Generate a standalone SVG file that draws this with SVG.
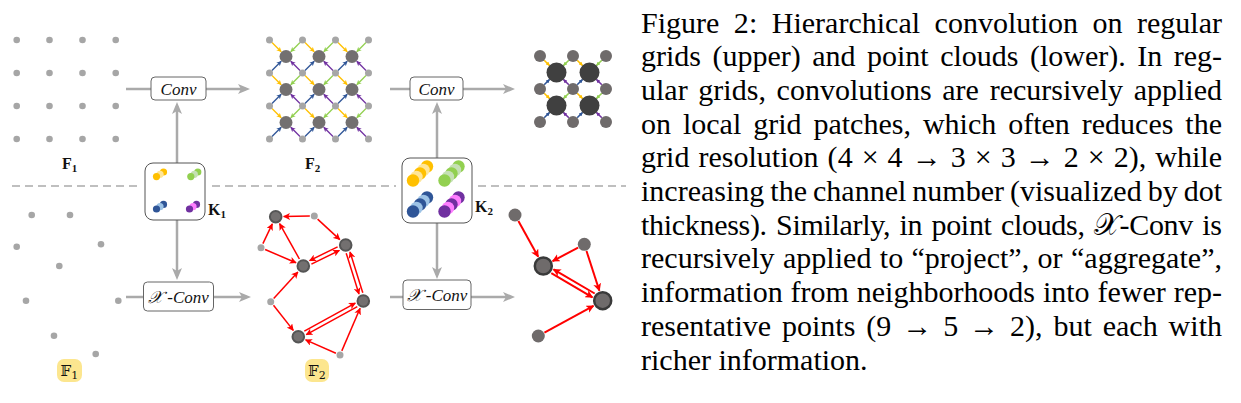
<svg xmlns="http://www.w3.org/2000/svg" width="1241" height="403" viewBox="0 0 1241 403">
<style>
.g{fill:#a6a6a6}
.big{fill:#737070}
.bigs{fill:#737070;stroke:#555;stroke-width:2}
.dk{fill:#6f6b6b}
.blk{fill:#404040}
.dkb{fill:#6f6b6b;stroke:#3a3a3a;stroke-width:2.5}
.lbl{font-family:"Liberation Serif","DejaVu Serif",serif;font-weight:bold;font-size:16px;fill:#111}
.sub{font-size:11px}
.bb{font-family:"DejaVu Serif","DejaVu Sans",serif;font-size:15px;fill:#111}
.op{font-family:"Liberation Serif","DejaVu Serif",serif;font-style:italic;font-size:17px;fill:#111;text-anchor:middle}
.box{fill:#fff;stroke:#666;stroke-width:1}
.kbox{fill:#fff;stroke:#555;stroke-width:1}
.conn{stroke:#aaa;stroke-width:2.5;fill:none}
.arr{marker-end:url(#mg)}
.dash{stroke:#aaa;stroke-width:1.5;stroke-dasharray:8 5;fill:none}
.red{stroke:#f00;stroke-width:1.5;fill:none;marker-end:url(#mr)}
.red2{stroke:#f00;stroke-width:2;fill:none;marker-end:url(#mr2)}
.cap{font-family:"Liberation Serif","Times New Roman",serif;font-size:30px;fill:#000}
.hl{fill:#fce68f}
.ao{stroke:#ffc000;stroke-width:1.3;marker-end:url(#mo)}
.ag{stroke:#92d050;stroke-width:1.3;marker-end:url(#mgr)}
.ab{stroke:#2f5597;stroke-width:1.3;marker-end:url(#mb)}
.ap{stroke:#7030a0;stroke-width:1.3;marker-end:url(#mp)}
.so{stroke:#ffc000;stroke-width:1.6;marker-end:url(#so)}
.sg{stroke:#92d050;stroke-width:1.6;marker-end:url(#sgr)}
.sb{stroke:#2f5597;stroke-width:1.6;marker-end:url(#sb)}
.sp{stroke:#7030a0;stroke-width:1.6;marker-end:url(#sp)}
.yd{fill:#ffc000}.yl{fill:#ffe699}
.gd{fill:#92d050}.gl{fill:#c5e0b4}
.bd{fill:#2f5597}.bl{fill:#9dc3e6}
.pd{fill:#7030a0}.pl{fill:#ff7dff}
</style>
<defs>
<marker id="mg" viewBox="0 0 12 10" refX="8" refY="5" markerWidth="12" markerHeight="10" markerUnits="userSpaceOnUse" orient="auto"><path d="M0,0 L12,5 L0,10 L3,5 z" fill="#aaa"/></marker>
<marker id="mr" viewBox="0 0 10 10" refX="9" refY="5" markerWidth="7" markerHeight="7" markerUnits="userSpaceOnUse" orient="auto"><path d="M0,0 L10,5 L0,10 L2.5,5 z" fill="#f00"/></marker>
<marker id="mr2" viewBox="0 0 10 10" refX="9" refY="5" markerWidth="8" markerHeight="8" markerUnits="userSpaceOnUse" orient="auto"><path d="M0,0 L10,5 L0,10 L2.5,5 z" fill="#f00"/></marker>
<marker id="mo" viewBox="0 0 10 10" refX="9" refY="5" markerWidth="5" markerHeight="5" markerUnits="userSpaceOnUse" orient="auto"><path d="M0,0 L10,5 L0,10 L2.5,5 z" fill="#ffc000"/></marker>
<marker id="mgr" viewBox="0 0 10 10" refX="9" refY="5" markerWidth="5" markerHeight="5" markerUnits="userSpaceOnUse" orient="auto"><path d="M0,0 L10,5 L0,10 L2.5,5 z" fill="#92d050"/></marker>
<marker id="mb" viewBox="0 0 10 10" refX="9" refY="5" markerWidth="5" markerHeight="5" markerUnits="userSpaceOnUse" orient="auto"><path d="M0,0 L10,5 L0,10 L2.5,5 z" fill="#2f5597"/></marker>
<marker id="mp" viewBox="0 0 10 10" refX="9" refY="5" markerWidth="5" markerHeight="5" markerUnits="userSpaceOnUse" orient="auto"><path d="M0,0 L10,5 L0,10 L2.5,5 z" fill="#7030a0"/></marker>
<marker id="so" viewBox="0 0 10 10" refX="9" refY="5" markerWidth="4" markerHeight="4" markerUnits="userSpaceOnUse" orient="auto"><path d="M0,0 L10,5 L0,10 z" fill="#ffc000"/></marker>
<marker id="sgr" viewBox="0 0 10 10" refX="9" refY="5" markerWidth="4" markerHeight="4" markerUnits="userSpaceOnUse" orient="auto"><path d="M0,0 L10,5 L0,10 z" fill="#92d050"/></marker>
<marker id="sb" viewBox="0 0 10 10" refX="9" refY="5" markerWidth="4" markerHeight="4" markerUnits="userSpaceOnUse" orient="auto"><path d="M0,0 L10,5 L0,10 z" fill="#2f5597"/></marker>
<marker id="sp" viewBox="0 0 10 10" refX="9" refY="5" markerWidth="4" markerHeight="4" markerUnits="userSpaceOnUse" orient="auto"><path d="M0,0 L10,5 L0,10 z" fill="#7030a0"/></marker>
<g id="q2">
<line class="ao" x1="-14" y1="-14" x2="-4.8" y2="-4.8"/>
<line class="ag" x1="14" y1="-14" x2="4.8" y2="-4.8"/>
<line class="ab" x1="-14" y1="14" x2="-4.8" y2="4.8"/>
<line class="ap" x1="14" y1="14" x2="4.8" y2="4.8"/>
</g>
<g id="q3">
<line class="so" x1="-12.3" y1="-12.3" x2="-7" y2="-7"/>
<line class="sg" x1="12.3" y1="-12.3" x2="7" y2="-7"/>
<line class="sb" x1="-12.3" y1="12.3" x2="-7" y2="7"/>
<line class="sp" x1="12.3" y1="12.3" x2="7" y2="7"/>
</g>
</defs>
<rect width="1241" height="403" fill="#fff"/>

<!-- divider -->
<g id="divider">
<line class="dash" x1="12" y1="186" x2="138" y2="186"/>
<line class="dash" x1="212" y1="186" x2="396" y2="186"/>
<line class="dash" x1="478" y1="186" x2="626" y2="186"/>
</g>

<!-- connectors -->
<g id="connectors">
<line class="conn" x1="126" y1="89" x2="151" y2="89"/>
<line class="conn arr" x1="206" y1="89" x2="246" y2="89"/>
<line class="conn arr" x1="177" y1="163" x2="177" y2="106"/>
<line class="conn arr" x1="177" y1="220" x2="177" y2="276"/>
<line class="conn" x1="126" y1="297" x2="144" y2="297"/>
<line class="conn arr" x1="213" y1="297" x2="247" y2="297"/>
<line class="conn" x1="390" y1="89" x2="410" y2="89"/>
<line class="conn arr" x1="463" y1="89" x2="511" y2="89"/>
<line class="conn arr" x1="437" y1="158" x2="437" y2="106"/>
<line class="conn arr" x1="437" y1="223" x2="437" y2="275"/>
<line class="conn" x1="390" y1="297" x2="403" y2="297"/>
<line class="conn arr" x1="471" y1="297" x2="511" y2="297"/>
</g>

<!-- F1 regular grid -->
<g id="F1">
<circle class="g" cx="16.7" cy="40" r="3.3"/><circle class="g" cx="49.5" cy="40" r="3.3"/><circle class="g" cx="82.5" cy="40" r="3.3"/><circle class="g" cx="115.7" cy="40" r="3.3"/>
<circle class="g" cx="16.7" cy="73" r="3.3"/><circle class="g" cx="49.5" cy="73" r="3.3"/><circle class="g" cx="82.5" cy="73" r="3.3"/><circle class="g" cx="115.7" cy="73" r="3.3"/>
<circle class="g" cx="16.7" cy="106" r="3.3"/><circle class="g" cx="49.5" cy="106" r="3.3"/><circle class="g" cx="82.5" cy="106" r="3.3"/><circle class="g" cx="115.7" cy="106" r="3.3"/>
<circle class="g" cx="16.7" cy="139" r="3.3"/><circle class="g" cx="49.5" cy="139" r="3.3"/><circle class="g" cx="82.5" cy="139" r="3.3"/><circle class="g" cx="115.7" cy="139" r="3.3"/>
<text class="lbl" x="62" y="169">F<tspan class="sub" dy="3">1</tspan></text>
</g>

<!-- F2 regular grid -->
<g id="F2">
<use href="#q2" x="286" y="56.5"/><use href="#q2" x="319" y="56.5"/><use href="#q2" x="352" y="56.5"/>
<use href="#q2" x="286" y="89.5"/><use href="#q2" x="319" y="89.5"/><use href="#q2" x="352" y="89.5"/>
<use href="#q2" x="286" y="122.5"/><use href="#q2" x="319" y="122.5"/><use href="#q2" x="352" y="122.5"/>
<circle class="g" cx="269.5" cy="40" r="3.5"/><circle class="g" cx="302.5" cy="40" r="3.5"/><circle class="g" cx="335.5" cy="40" r="3.5"/><circle class="g" cx="368.5" cy="40" r="3.5"/>
<circle class="g" cx="269.5" cy="73" r="3.5"/><circle class="g" cx="302.5" cy="73" r="3.5"/><circle class="g" cx="335.5" cy="73" r="3.5"/><circle class="g" cx="368.5" cy="73" r="3.5"/>
<circle class="g" cx="269.5" cy="106" r="3.5"/><circle class="g" cx="302.5" cy="106" r="3.5"/><circle class="g" cx="335.5" cy="106" r="3.5"/><circle class="g" cx="368.5" cy="106" r="3.5"/>
<circle class="g" cx="269.5" cy="139" r="3.5"/><circle class="g" cx="302.5" cy="139" r="3.5"/><circle class="g" cx="335.5" cy="139" r="3.5"/><circle class="g" cx="368.5" cy="139" r="3.5"/>
<circle class="big" cx="286" cy="56.5" r="6.5"/><circle class="big" cx="319" cy="56.5" r="6.5"/><circle class="big" cx="352" cy="56.5" r="6.5"/>
<circle class="big" cx="286" cy="89.5" r="6.5"/><circle class="big" cx="319" cy="89.5" r="6.5"/><circle class="big" cx="352" cy="89.5" r="6.5"/>
<circle class="big" cx="286" cy="122.5" r="6.5"/><circle class="big" cx="319" cy="122.5" r="6.5"/><circle class="big" cx="352" cy="122.5" r="6.5"/>
<text class="lbl" x="305" y="169">F<tspan class="sub" dy="3">2</tspan></text>
</g>

<!-- F3 regular grid -->
<g id="F3">
<use href="#q3" x="556.5" y="72.5"/><use href="#q3" x="589.5" y="72.5"/>
<use href="#q3" x="556.5" y="105.5"/><use href="#q3" x="589.5" y="105.5"/>
<circle class="dk" cx="540" cy="56" r="6"/><circle class="dk" cx="573" cy="56" r="6"/><circle class="dk" cx="606" cy="56" r="6"/>
<circle class="dk" cx="540" cy="89" r="6"/><circle class="dk" cx="573" cy="89" r="6"/><circle class="dk" cx="606" cy="89" r="6"/>
<circle class="dk" cx="540" cy="122" r="6"/><circle class="dk" cx="573" cy="122" r="6"/><circle class="dk" cx="606" cy="122" r="6"/>
<circle class="blk" cx="556.5" cy="72.5" r="10"/><circle class="blk" cx="589.5" cy="72.5" r="10"/>
<circle class="blk" cx="556.5" cy="105.5" r="10"/><circle class="blk" cx="589.5" cy="105.5" r="10"/>
</g>

<!-- operators -->
<g id="conv1"><rect class="box" x="151" y="77" width="55" height="23" rx="4"/><text class="op" x="178.5" y="94.5">Conv</text></g>
<g id="conv2"><rect class="box" x="410" y="77" width="53" height="23" rx="4"/><text class="op" x="436.5" y="94.5">Conv</text></g>
<g id="xconv1"><rect class="box" x="143.5" y="282" width="70" height="29" rx="4"/><text class="op" x="178.5" y="302.5">𝒳 -Conv</text></g>
<g id="xconv2"><rect class="box" x="403" y="280" width="68" height="29.5" rx="4"/><text class="op" x="437" y="301">𝒳 -Conv</text></g>

<!-- K1 -->
<g id="K1">
<rect class="kbox" x="145" y="163" width="60" height="57" rx="8"/>
<circle class="yd" cx="163.5" cy="172" r="3.6"/><circle class="yl" cx="160" cy="174.3" r="3.6"/><circle class="yd" cx="156.5" cy="176.6" r="3.6"/>
<circle class="gd" cx="197.8" cy="172" r="3.6"/><circle class="gl" cx="194.3" cy="174.3" r="3.6"/><circle class="gd" cx="190.8" cy="176.6" r="3.6"/>
<circle class="bd" cx="163.5" cy="204.4" r="3.6"/><circle class="bl" cx="160" cy="206.7" r="3.6"/><circle class="bd" cx="156.5" cy="209" r="3.6"/>
<circle class="pd" cx="196.5" cy="204.4" r="3.6"/><circle class="pl" cx="193" cy="206.7" r="3.6"/><circle class="pd" cx="189.5" cy="209" r="3.6"/>
<text class="lbl" x="208" y="215">K<tspan class="sub" dy="3">1</tspan></text>
</g>

<!-- K2 -->
<g id="K2">
<rect class="kbox" x="402" y="158" width="70" height="65" rx="8"/>
<circle class="yd" cx="427" cy="166.5" r="6.2"/><circle class="yl" cx="423.5" cy="170" r="6.2"/><circle class="yd" cx="420" cy="173.5" r="6.2"/><circle class="yl" cx="416.5" cy="177" r="6.2"/><circle class="yd" cx="413" cy="180.5" r="6.2"/>
<circle class="gd" cx="458.5" cy="166.5" r="6.2"/><circle class="gl" cx="455" cy="170" r="6.2"/><circle class="gd" cx="451.5" cy="173.5" r="6.2"/><circle class="gl" cx="448" cy="177" r="6.2"/><circle class="gd" cx="444.5" cy="180.5" r="6.2"/>
<circle class="bd" cx="427" cy="197.5" r="6.2"/><circle class="bl" cx="423.5" cy="201" r="6.2"/><circle class="bd" cx="420" cy="204.5" r="6.2"/><circle class="bl" cx="416.5" cy="208" r="6.2"/><circle class="bd" cx="413" cy="211.5" r="6.2"/>
<circle class="pd" cx="458.5" cy="197.5" r="6.2"/><circle class="pl" cx="455" cy="201" r="6.2"/><circle class="pd" cx="451.5" cy="204.5" r="6.2"/><circle class="pl" cx="448" cy="208" r="6.2"/><circle class="pd" cx="444.5" cy="211.5" r="6.2"/>
<text class="lbl" x="475" y="212">K<tspan class="sub" dy="3">2</tspan></text>
</g>

<!-- point cloud 1 -->
<g id="P1">
<circle class="g" cx="31.7" cy="215" r="3.3"/><circle class="g" cx="70" cy="215" r="3.3"/>
<circle class="g" cx="16.7" cy="246.7" r="3.3"/><circle class="g" cx="101" cy="244.3" r="3.3"/>
<circle class="g" cx="59.3" cy="266" r="3.3"/><circle class="g" cx="26" cy="300.7" r="3.3"/>
<circle class="g" cx="118.3" cy="300.7" r="3.3"/><circle class="g" cx="54" cy="335.7" r="3.3"/>
<circle class="g" cx="95.7" cy="354" r="3.3"/>
<rect class="hl" x="57" y="359" width="25" height="23" rx="7"/>
<text class="bb" x="60.5" y="376">𝔽<tspan class="sub" dy="3">1</tspan></text>
</g>

<!-- point cloud 2 -->
<g id="P2">
<g id="P2-edges">
<line class="red" x1="309.8" y1="216.1" x2="283.7" y2="216.6"/>
<line class="red" x1="317.6" y1="219.1" x2="339.8" y2="239.6"/>
<line class="red" x1="262.9" y1="243.6" x2="272.3" y2="223.9"/>
<line class="red" x1="265.1" y1="249.5" x2="296" y2="262.8"/>
<line class="red" x1="299.4" y1="259" x2="279.6" y2="223.7"/>
<line class="red" x1="311.4" y1="264.2" x2="339.4" y2="250.4"/>
<line class="red" x1="337.6" y1="246.8" x2="309.6" y2="260.6"/>
<line class="red" x1="346.2" y1="253.2" x2="359" y2="294"/>
<line class="red" x1="362.8" y1="292.8" x2="350" y2="252"/>
<line class="red" x1="273.7" y1="298.4" x2="297.9" y2="271.9"/>
<line class="red" x1="273.5" y1="305.2" x2="293.3" y2="330.4"/>
<line class="red" x1="357.3" y1="306.6" x2="306.3" y2="334.7"/>
<line class="red" x1="304.3" y1="331.1" x2="355.3" y2="303.1"/>
<line class="red" x1="335.9" y1="353.2" x2="305.6" y2="339.9"/>
<line class="red" x1="341.8" y1="350.9" x2="360.1" y2="308.3"/>
</g>
<circle class="g" cx="314.3" cy="216" r="3.5"/><circle class="g" cx="261" cy="247.7" r="3.5"/>
<circle class="g" cx="270.7" cy="301.7" r="3.5"/><circle class="g" cx="340" cy="355" r="3.5"/>
<circle class="bigs" cx="275.7" cy="216.7" r="5.8"/><circle class="bigs" cx="345.7" cy="245" r="5.8"/>
<circle class="bigs" cx="303.3" cy="266" r="5.8"/><circle class="bigs" cx="363.3" cy="301" r="5.8"/>
<circle class="bigs" cx="298.3" cy="336.7" r="5.8"/>
<rect class="hl" x="305" y="359" width="24" height="23" rx="7"/>
<text class="bb" x="308" y="376">𝔽<tspan class="sub" dy="3">2</tspan></text>
</g>

<!-- point cloud 3 -->
<g id="P3">
<g id="P3-edges">
<line class="red2" x1="518.4" y1="221.1" x2="538.2" y2="256.8"/>
<line class="red2" x1="578.1" y1="247.6" x2="552.6" y2="261.1"/>
<line class="red2" x1="586.5" y1="251" x2="599.4" y2="290.7"/>
<line class="red2" x1="544.4" y1="332.6" x2="593.5" y2="305.8"/>
<line class="red2" x1="551.3" y1="273.2" x2="592.5" y2="297.3"/>
<line class="red2" x1="594.7" y1="293.5" x2="553.5" y2="269.4"/>
</g>
<circle class="dk" cx="515" cy="215" r="6.5"/><circle class="dk" cx="584.3" cy="244.3" r="6.5"/><circle class="dk" cx="538.3" cy="336" r="6.5"/>
<circle class="dkb" cx="543.3" cy="266" r="8.5"/><circle class="dkb" cx="602.7" cy="300.7" r="8.5"/>
</g>

<!-- caption -->
<g id="caption" class="cap">
<text x="641" y="32.5" textLength="581" lengthAdjust="spacing" word-spacing="7">Figure 2: Hierarchical convolution on regular</text>
<text x="641" y="66.2" textLength="581" lengthAdjust="spacing" word-spacing="4">grids (upper) and point clouds (lower). In reg-</text>
<text x="641" y="99.9" textLength="581" lengthAdjust="spacing" word-spacing="3.2">ular grids, convolutions are recursively applied</text>
<text x="641" y="133.6" textLength="581" lengthAdjust="spacing" word-spacing="4.4">on local grid patches, which often reduces the</text>
<text x="641" y="167.3" textLength="581" lengthAdjust="spacing" word-spacing="1.5">grid resolution (4 × 4 → 3 × 3 → 2 × 2), while</text>
<text x="641" y="201" textLength="581" lengthAdjust="spacing" word-spacing="-1.5">increasing the channel number (visualized by dot</text>
<text x="641" y="234.7" textLength="581" lengthAdjust="spacing" word-spacing="2.1">thickness). Similarly, in point clouds, 𝒳-Conv is</text>
<text x="641" y="268.4" textLength="581" lengthAdjust="spacing" word-spacing="0.8">recursively applied to “project”, or “aggregate”,</text>
<text x="641" y="302.1" textLength="581" lengthAdjust="spacing" word-spacing="0.4">information from neighborhoods into fewer rep-</text>
<text x="641" y="335.8" textLength="581" lengthAdjust="spacing" word-spacing="3.4">resentative points (9 → 5 → 2), but each with</text>
<text x="641" y="369.5">richer information.</text>
</g>
</svg>
